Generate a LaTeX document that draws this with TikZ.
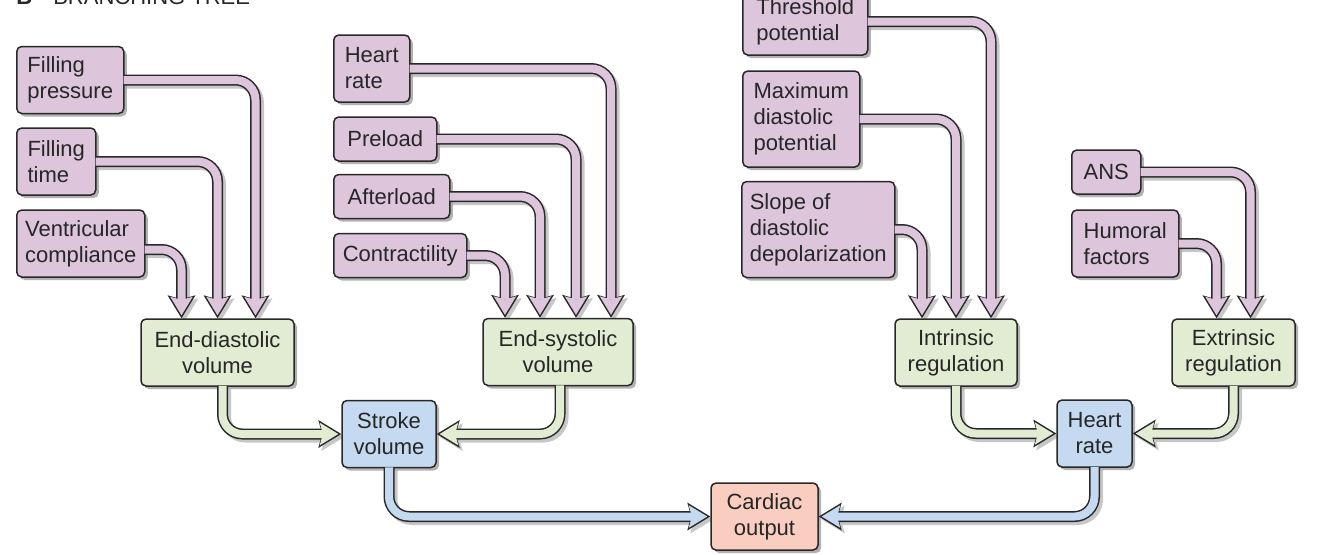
\documentclass[tikz,border=0pt]{standalone}
\usepackage{fontspec}
\setmainfont{Liberation Sans}
\usetikzlibrary{arrows.meta,shadows,backgrounds}

\definecolor{mauve}{RGB}{221,198,220}
\definecolor{sage}{RGB}{226,236,210}
\definecolor{sky}{RGB}{197,218,240}
\definecolor{peach}{RGB}{249,206,192}
\definecolor{edge}{RGB}{40,40,40}

\tikzset{
    box/.style={draw=edge, line width=0.75pt, rounded corners=2.5pt,
        inner xsep=3pt, inner ysep=0pt, text=black!85,
        font=\fontsize{11}{13}\selectfont,
        drop shadow={shadow xshift=1.5pt, shadow yshift=-1.5pt,
            opacity=0.3, fill=black}},
    cause/.style={box, fill=mauve, align=left, anchor=west},
    greenbox/.style={box, fill=sage, align=center, twoline},
    bluebox/.style={box, fill=sky, align=center, twoline},
    peachbox/.style={box, fill=peach, align=center, twoline},
    oneline/.style={minimum height=22pt},
    twoline/.style={minimum height=33.5pt},
    threeline/.style={minimum height=48pt},
    flowshade/.style={line width=5.5pt, draw=black!22, rounded corners=10pt,
        transform canvas={shift={(1.5pt,-1.5pt)}},
        -{Stealth[length=11.5pt, width=14pt, inset=2pt, line width=0pt]}},
    flowedge/.style={line width=5.5pt, draw=edge, rounded corners=10pt,
        -{Stealth[length=11.5pt, width=14pt, inset=2pt, line width=0pt]}},
    flowfill/.style={line width=4pt, draw=#1, rounded corners=10pt,
        shorten >=1.46pt,
        -{Stealth[length=9.3pt, width=11.3pt, inset=1.6pt, line width=0pt]}},
}

\newcommand{\flowarrow}[2]{%
    \begin{scope}[on background layer]
        \draw[flowshade] #2;
    \end{scope}
    \draw[flowedge] #2;
    \draw[flowfill=#1] #2;
}

\begin{document}
\begin{tikzpicture}[x=0.5pt,y=-0.5pt]
\useasboundingbox (0,0) rectangle (1321,554);

% Title
\node[anchor=base west, font=\fontsize{11}{13}\selectfont, text=black!85,
    inner sep=0pt] (title) at (16,4) {\textbf{B}\hspace{10.5pt}BRANCHING TREE};

% Causes
\node[cause, twoline, minimum width=53.5pt] (fp) at (16,80) {Filling\\pressure};
\node[cause, twoline, minimum width=39.5pt] (ft) at (16,161.5) {Filling\\time};
\node[cause, twoline, minimum width=64pt] (vc) at (16,243.5) {Ventricular\\compliance};
\node[cause, twoline, minimum width=38pt] (hr) at (333,68.5) {Heart\\rate};
\node[cause, oneline, minimum width=51.5pt] (pre) at (333,139) {Preload};
\node[cause, oneline, minimum width=58pt] (aft) at (333,196.5) {Afterload};
\node[cause, oneline, minimum width=66.5pt] (con) at (333,255.5) {Contractility};
\node[cause, twoline, minimum width=62.5pt] (thr) at (742,21.5) {Threshold\\potential};
\node[cause, threeline, minimum width=58.5pt] (mdp) at (742,119) {Maximum\\diastolic\\potential};
\node[cause, threeline, minimum width=76.5pt] (sdd) at (741,229.5) {Slope of\\diastolic\\depolarization};
\node[cause, oneline, minimum width=34.5pt] (ans) at (1071,172) {ANS};
\node[cause, twoline, minimum width=53.5pt] (hum) at (1071,243.5) {Humoral\\factors};

% Effects
\node[greenbox, minimum width=76.5pt] (edv) at (217.5,352.5) {End-diastolic\\volume};
\node[greenbox, minimum width=75pt] (esv) at (558,352) {End-systolic\\volume};
\node[greenbox, minimum width=61pt] (intr) at (956,352.5) {Intrinsic\\regulation};
\node[greenbox, minimum width=61.5pt] (extr) at (1233.5,352.5) {Extrinsic\\regulation};
\node[bluebox, minimum width=47pt] (sv) at (389,434) {Stroke\\volume};
\node[bluebox, minimum width=37.5pt] (hrt) at (1094.5,433.5) {Heart\\rate};
\node[peachbox, minimum width=53.5pt] (co) at (764.5,516.5) {Cardiac\\output};

% Into end-diastolic volume
\flowarrow{mauve}{([xshift=-0.4pt]fp.east) -| ([xshift=19pt]edv.north)}
\flowarrow{mauve}{([xshift=-0.4pt]ft.east) -| (edv.north)}
\flowarrow{mauve}{([xshift=-0.4pt,yshift=-3pt]vc.east) -| ([xshift=-18pt]edv.north)}
% Into end-systolic volume
\flowarrow{mauve}{([xshift=-0.4pt]hr.east) -| ([xshift=26.5pt]esv.north)}
\flowarrow{mauve}{([xshift=-0.4pt]pre.east) -| ([xshift=9pt]esv.north)}
\flowarrow{mauve}{([xshift=-0.4pt]aft.east) -| ([xshift=-9pt]esv.north)}
\flowarrow{mauve}{([xshift=-0.4pt]con.east) -| ([xshift=-26.5pt]esv.north)}
% Into intrinsic regulation
\flowarrow{mauve}{([xshift=-0.4pt]thr.east) -| ([xshift=17.5pt]intr.north)}
\flowarrow{mauve}{([xshift=-0.4pt]mdp.east) -| (intr.north)}
\flowarrow{mauve}{([xshift=-0.4pt]sdd.east) -| ([xshift=-17pt]intr.north)}
% Into extrinsic regulation
\flowarrow{mauve}{([xshift=-0.4pt]ans.east) -| ([xshift=8.5pt]extr.north)}
\flowarrow{mauve}{([xshift=-0.4pt]hum.east) -| ([xshift=-8.5pt]extr.north)}

% Lower levels
\flowarrow{sage}{([xshift=2.5pt,yshift=0.4pt]edv.south) |- (sv.west)}
\flowarrow{sage}{([xshift=1pt,yshift=0.4pt]esv.south) |- (sv.east)}
\flowarrow{sage}{([yshift=0.4pt]intr.south) |- (hrt.west)}
\flowarrow{sage}{([yshift=0.4pt]extr.south) |- (hrt.east)}
\flowarrow{sky}{([yshift=0.4pt]sv.south) |- (co.west)}
\flowarrow{sky}{([yshift=0.4pt]hrt.south) |- (co.east)}
\end{tikzpicture}
\end{document}
